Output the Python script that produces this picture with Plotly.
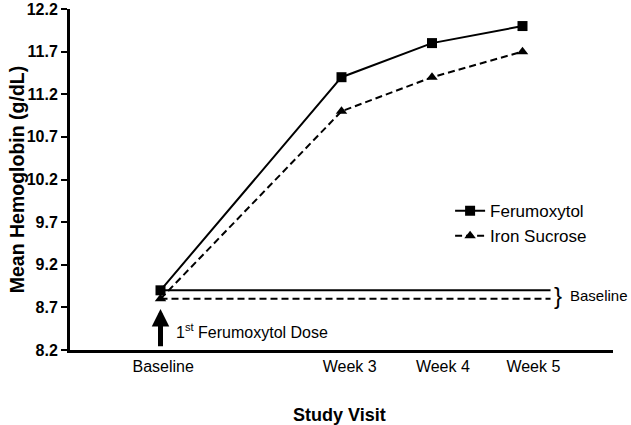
import plotly.graph_objects as go

# Study visit positions and labels
VISIT_POS = [1, 3, 4, 5]
VISIT_LABELS = ["Baseline", "Week 3", "Week 4", "Week 5"]
# the original prints its category labels a little right of the points
LABEL_POS = [1.03, 3.09, 4.12, 5.12]

# Mean hemoglobin (g/dL)
FERUMOXYTOL = [8.9, 11.4, 11.8, 12.0]
IRON_SUCROSE = [8.8, 11.0, 11.4, 11.7]

Y_TICKS = [8.2, 8.7, 9.2, 9.7, 10.2, 10.7, 11.2, 11.7, 12.2]

BASELINE_END = 5.31
FONT = "Arial, Liberation Sans, sans-serif"
DASH = "7px,4px"

fig = go.Figure()

# baseline reference lines
fig.add_trace(go.Scatter(
    x=[VISIT_POS[0], BASELINE_END], y=[FERUMOXYTOL[0]] * 2,
    mode="lines", line=dict(color="black", width=2), showlegend=False, hoverinfo="skip",
))
fig.add_trace(go.Scatter(
    x=[VISIT_POS[0], BASELINE_END], y=[IRON_SUCROSE[0]] * 2,
    mode="lines", line=dict(color="black", width=2, dash=DASH), showlegend=False, hoverinfo="skip",
))

fig.add_trace(go.Scatter(
    x=VISIT_POS, y=FERUMOXYTOL, name="Ferumoxytol",
    mode="lines+markers",
    line=dict(color="black", width=2),
    marker=dict(symbol="square", size=10, color="black"),
))
fig.add_trace(go.Scatter(
    x=VISIT_POS, y=IRON_SUCROSE, name="Iron Sucrose",
    mode="lines+markers",
    line=dict(color="black", width=2, dash=DASH),
    marker=dict(symbol="triangle-up", size=10, color="black"),
))

# arrow for first dose
fig.add_annotation(
    x=VISIT_POS[0], y=8.68, ax=VISIT_POS[0], ay=8.225,
    xref="x", yref="y", axref="x", ayref="y",
    showarrow=True, arrowhead=2, arrowsize=0.7, arrowwidth=5, arrowcolor="black", text="",
)
fig.add_annotation(
    x=1.15, y=8.42, xref="x", yref="y", xanchor="left", yanchor="middle",
    text="1<sup>st</sup> Ferumoxytol Dose", showarrow=False,
    font=dict(family=FONT, size=16, color="black"),
)
fig.add_annotation(
    x=5.33, y=8.84, xref="x", yref="y", xanchor="left", yanchor="middle",
    text="}", showarrow=False,
    font=dict(family=FONT, size=24, color="black"),
)
fig.add_annotation(
    x=5.5, y=8.84, xref="x", yref="y", xanchor="left", yanchor="middle",
    text="Baseline", showarrow=False,
    font=dict(family=FONT, size=15, color="black"),
)

# axis titles
fig.add_annotation(
    x=-0.098, y=0.5, xref="paper", yref="paper", xanchor="center", yanchor="middle",
    text="<b>Mean Hemoglobin (g/dL)</b>",
    showarrow=False, textangle=-90, font=dict(family=FONT, size=19.5, color="black"),
)
fig.add_annotation(
    x=0.497, y=-0.19, xref="paper", yref="paper", xanchor="center", yanchor="middle",
    text="<b>Study Visit</b>",
    showarrow=False, font=dict(family=FONT, size=18, color="black"),
)

fig.update_layout(
    width=631, height=425,
    margin=dict(l=70, r=18, t=9, b=75),
    plot_bgcolor="white", paper_bgcolor="white",
    font=dict(family=FONT, color="black"),
    legend=dict(
        x=0.70, y=0.46, xanchor="left", yanchor="top",
        font=dict(family=FONT, size=17, color="black"),
        bgcolor="rgba(0,0,0,0)", itemwidth=30, tracegroupgap=2,
    ),
)
fig.update_xaxes(
    range=[0, 6], tickmode="array", tickvals=LABEL_POS, ticktext=VISIT_LABELS,
    showline=True, linecolor="black", linewidth=3, ticks="", showgrid=False, zeroline=False,
    tickfont=dict(family=FONT, size=16, color="black"), automargin=False,
)
fig.update_yaxes(
    range=[8.2, 12.2], tickmode="array", tickvals=Y_TICKS,
    ticktext=[f"<b>{v:.1f}</b>" for v in Y_TICKS],
    showline=True, linecolor="black", linewidth=3, ticks="outside", ticklen=6, tickwidth=2,
    tickcolor="black", showgrid=False, zeroline=False,
    tickfont=dict(family=FONT, size=16, color="black"), automargin=False,
)

fig.write_html(
    "out.html",
    config={"displayModeBar": False},
    post_script="document.body.style.margin='0';",
)
